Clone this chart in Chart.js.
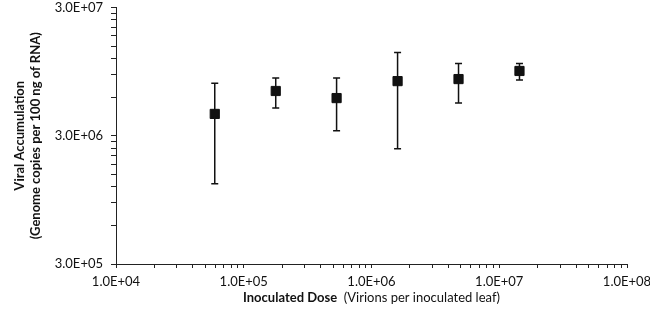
<!DOCTYPE html>
<html>
<head>
<meta charset="utf-8">
<script src="https://cdn.jsdelivr.net/npm/chart.js@4.4.1/dist/chart.umd.min.js"></script>
<style>
  html, body { margin: 0; padding: 0; background: #fff; }
  #wrap { width: 650px; height: 311px; }
</style>
</head>
<body>
<div id="wrap"><canvas id="chart"></canvas></div>
<script>
// doses (virions per leaf) and viral accumulation
const doses = [5.93e4, 1.78e5, 5.33e5, 1.6e6, 4.8e6, 1.44e7];
const means = [4.44e6, 6.7e6, 5.9e6, 8.0e6, 8.3e6, 9.6e6];
const upper = [7.7e6, 8.45e6, 8.45e6, 1.34e7, 1.1e7, 1.1e7];
const lower = [1.27e6, 4.94e6, 3.28e6, 2.38e6, 5.41e6, 8.15e6];

const xMajorTicks = [1e4, 1e5, 1e6, 1e7, 1e8];
const yMajorTicks = [3e5, 3e6, 3e7];

const fontFamily = 'Lato, "Open Sans", sans-serif';

function withMinors(majors) {
    const out = [];
    majors.forEach((m, i) => {
        out.push({ value: m, major: true });
        if (i < majors.length - 1) {
            for (let k = 2; k <= 9; k++) out.push({ value: m * k, major: false });
        }
    });
    return out;
}

function sciLabel(v) {
    const exp = Math.floor(Math.log10(v) + 1e-9);
    const mant = (v / Math.pow(10, exp)).toFixed(1);
    const e = Math.abs(exp).toString().padStart(2, '0');
    return `${mant}E${exp < 0 ? '-' : '+'}${e}`;
}

const errorBars = {
    id: 'errorBars',
    beforeDatasetsDraw(chart) {
        const { ctx, scales: { x, y } } = chart;
        ctx.save();
        ctx.strokeStyle = '#111';
        ctx.lineWidth = 1.5;
        const cap = 3.5;
        doses.forEach((d, i) => {
            const px = x.getPixelForValue(d);
            const top = y.getPixelForValue(upper[i]);
            const bot = y.getPixelForValue(lower[i]);
            ctx.beginPath();
            ctx.moveTo(px, top);
            ctx.lineTo(px, bot);
            ctx.moveTo(px - cap, top);
            ctx.lineTo(px + cap, top);
            ctx.moveTo(px - cap, bot);
            ctx.lineTo(px + cap, bot);
            ctx.stroke();
        });
        ctx.restore();
    }
};

// x title mixes bold and regular text, so it is drawn by hand
const xTitle = {
    id: 'xTitle',
    afterDraw(chart) {
        const { ctx, chartArea } = chart;
        const boldPart = 'Inoculated Dose';
        const normalPart = '  (Virions per inoculated leaf)';
        ctx.save();
        ctx.fillStyle = '#111';
        ctx.textBaseline = 'middle';
        ctx.font = `bold 13px ${fontFamily}`;
        const w1 = ctx.measureText(boldPart).width;
        ctx.font = `13px ${fontFamily}`;
        const w2 = ctx.measureText(normalPart).width;
        const cx = (chartArea.left + chartArea.right) / 2;
        let xs = cx - (w1 + w2) / 2;
        const ty = 298;
        ctx.font = `bold 13px ${fontFamily}`;
        ctx.fillText(boldPart, xs, ty);
        ctx.font = `13px ${fontFamily}`;
        ctx.fillText(normalPart, xs + w1, ty);
        ctx.restore();
    }
};

new Chart(document.getElementById('chart'), {
    type: 'scatter',
    data: {
        datasets: [{
            label: 'Viral accumulation',
            data: doses.map((d, i) => ({ x: d, y: means[i] })),
            pointStyle: 'rect',
            pointRadius: 6.5,
            pointHoverRadius: 6.5,
            backgroundColor: '#111',
            borderColor: '#111',
            borderWidth: 1
        }]
    },
    options: {
        responsive: true,
        maintainAspectRatio: false,
        animation: false,
        layout: { padding: { top: 4, right: 23, left: 0, bottom: 0 } },
        plugins: {
            legend: { display: false },
            tooltip: { enabled: false }
        },
        scales: {
            x: {
                type: 'logarithmic',
                min: 1e4,
                max: 1e8,
                afterBuildTicks: scale => { scale.ticks = withMinors(xMajorTicks); },
                afterFit: scale => { scale.height = 47; scale.paddingLeft = 0; scale.paddingRight = 0; },
                ticks: {
                    autoSkip: false,
                    maxRotation: 0,
                    minRotation: 0,
                    padding: 6,
                    color: '#111',
                    font: { family: fontFamily, size: 13 },
                    callback: (v, i, ticks) => ticks[i].major ? sciLabel(v) : ''
                },
                grid: { drawOnChartArea: false, tickLength: 4, tickColor: '#222' },
                border: { display: true, color: '#222', width: 1 }
            },
            y: {
                type: 'logarithmic',
                min: 3e5,
                max: 3e7,
                afterBuildTicks: scale => { scale.ticks = withMinors(yMajorTicks); },
                afterFit: scale => { scale.width = 116; scale.paddingTop = 0; scale.paddingBottom = 0; },
                ticks: {
                    autoSkip: false,
                    padding: 8,
                    color: '#111',
                    font: { family: fontFamily, size: 13 },
                    callback: (v, i, ticks) => ticks[i].major ? sciLabel(v) : ''
                },
                grid: { drawOnChartArea: false, tickLength: 5, tickColor: '#222' },
                border: { display: true, color: '#222', width: 1 },
                title: {
                    display: true,
                    text: ['Viral Accumulation', '(Genome copies per 100 ng of RNA)'],
                    color: '#111',
                    font: { family: fontFamily, size: 13, weight: 'bold', lineHeight: 1.2 },
                    padding: { top: 12, bottom: 0 }
                }
            }
        }
    },
    plugins: [errorBars, xTitle]
});
</script>
</body>
</html>
